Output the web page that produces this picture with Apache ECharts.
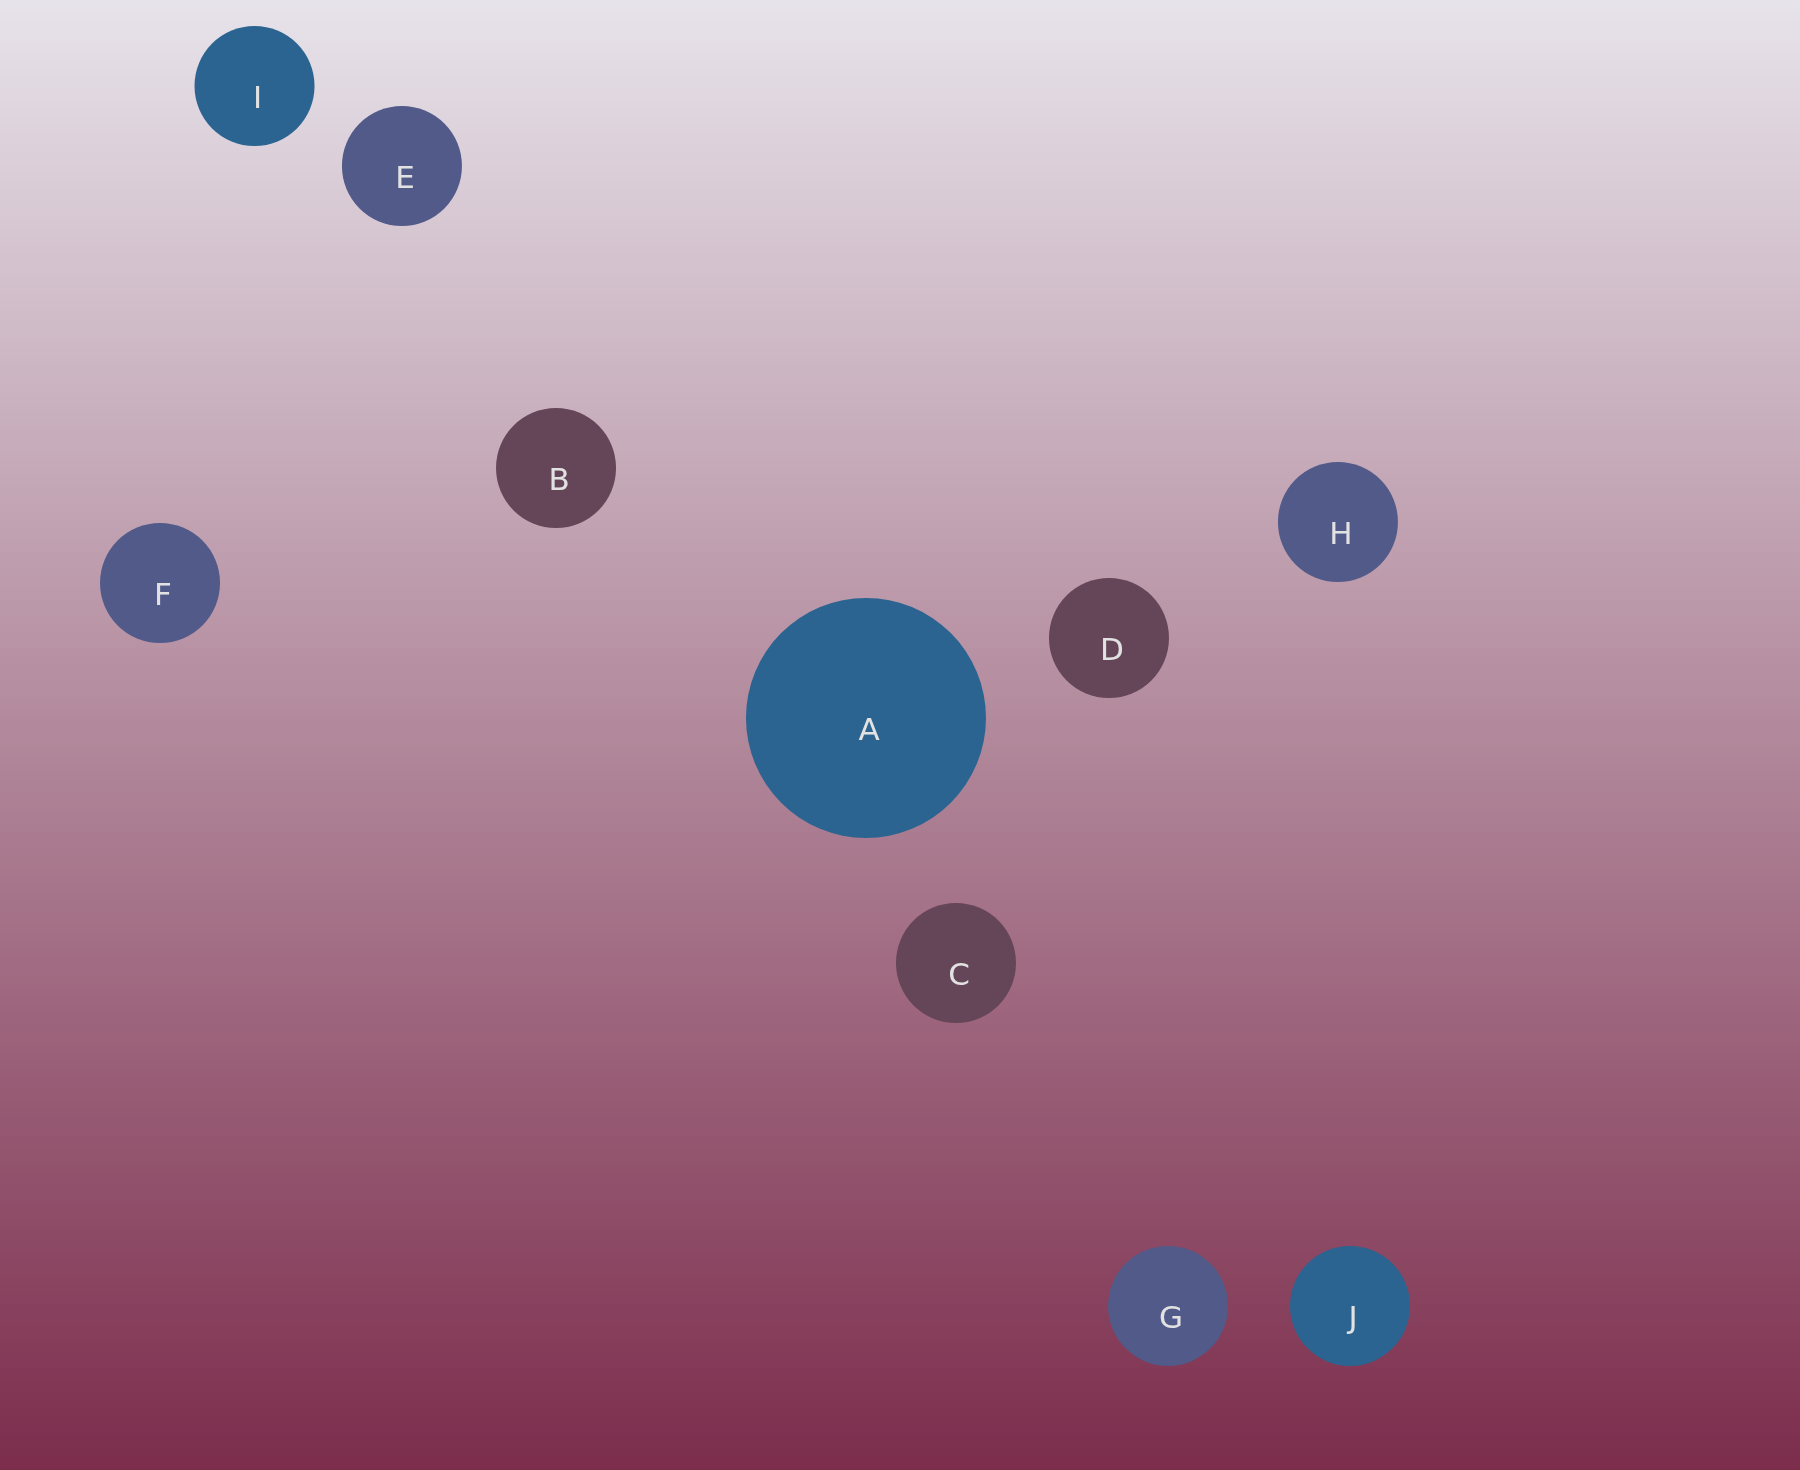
<!DOCTYPE html>
<html>
<head>
<meta charset="utf-8">
<title>Nodes</title>
<script src="https://cdn.jsdelivr.net/npm/echarts@6/dist/echarts.min.js"></script>
<style>
  html, body { margin: 0; padding: 0; }
  #main { width: 1800px; height: 1470px; }
</style>
</head>
<body>
<div id="main"></div>
<script>
// node names, positions (0-100 on both axes), weight and group
const names = ['A', 'B', 'C', 'D', 'E', 'F', 'G', 'H', 'I', 'J'];
const xValues = [48.11, 30.89, 53.11, 61.61, 22.33, 8.89, 64.89, 74.33, 14.14, 75.0];
const yValues = [51.16, 68.16, 34.49, 56.6, 88.71, 60.34, 11.16, 64.49, 94.15, 11.16];
const weights = [2, 1, 1, 1, 1, 1, 1, 1, 1, 1];
const groups = [0, 2, 2, 2, 1, 1, 1, 1, 0, 0];

const palette = ['#2b6490', '#515a89', '#654558'];

const chart = echarts.init(document.getElementById('main'));

const points = names.map((name, i) => ({
  name,
  value: [xValues[i], yValues[i], weights[i]],
  itemStyle: { color: palette[groups[i]] },
}));

chart.setOption({
  backgroundColor: new echarts.graphic.LinearGradient(0, 0, 0, 1, [
    { offset: 0, color: '#e7e3ea' },
    { offset: 1, color: '#7c2d4c' },
  ]),
  animation: false,
  grid: { left: 0, right: 0, top: 0, bottom: 0 },
  xAxis: { type: 'value', min: 0, max: 100, show: false },
  yAxis: { type: 'value', min: 0, max: 100, show: false },
  series: [
    {
      type: 'scatter',
      data: points,
      symbolSize: (val) => val[2] * 120,
      itemStyle: { opacity: 1 },
      label: {
        show: true,
        position: 'inside',
        formatter: '{b}',
        color: '#e2e2e2',
        fontSize: 31,
        fontFamily: 'DejaVu Sans',
        offset: [3, 14],
      },
    },
  ],
});
</script>
</body>
</html>
